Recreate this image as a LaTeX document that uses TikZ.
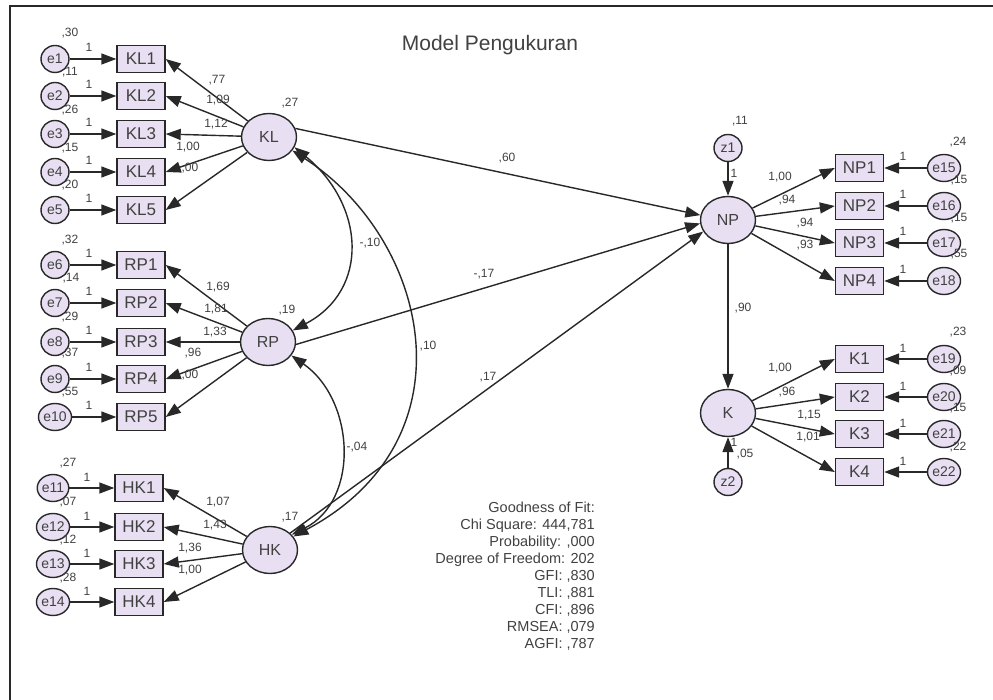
\documentclass[tikz,border=0pt]{standalone}
\usepackage{fontspec}
\setmainfont{Liberation Sans}
\usetikzlibrary{shapes.geometric,arrows.meta}
\definecolor{lav}{RGB}{232,224,242}
\definecolor{ink}{RGB}{40,40,40}
\definecolor{txt}{RGB}{65,65,65}
\begin{document}
\begin{tikzpicture}[x=1pt,y=-1pt,
  lat/.style={ellipse,draw=ink,line width=1.4pt,fill=lav,minimum width=55pt,minimum height=47pt,inner sep=0pt,font=\fontsize{16}{16}\selectfont,text=txt},
  err/.style={ellipse,draw=ink,line width=1.4pt,fill=lav,minimum width=28pt,minimum height=27pt,inner sep=0pt,font=\fontsize{14}{14}\selectfont,text=txt},
  obs/.style={rectangle,draw=ink,line width=1.4pt,fill=lav,minimum width=48pt,minimum height=27pt,inner sep=0pt,font=\fontsize{17}{17}\selectfont,text=txt},
  arr/.style={draw=ink,line width=1.4pt,-{Triangle[length=15pt,width=11pt]}},
  cov/.style={draw=ink,line width=1.4pt,{Triangle[length=15pt,width=11pt]}-{Triangle[length=15pt,width=11pt]}},
  lab/.style={font=\fontsize{12}{12}\selectfont,text=txt,inner sep=0pt},
]
\useasboundingbox (0,0) rectangle (993,700);
\fill[white] (0,0) rectangle (993,700);
\coordinate (fa) at (10,700);
\coordinate (fb) at (10,6);
\coordinate (fc) at (993,6);
\draw[ink,line width=2pt] (fa) -- (fb) -- (fc);

\node[font=\fontsize{21}{21}\selectfont,text=txt] (title) at (490,45) {Model Pengukuran};

% latent variables
\node[lat] (KL) at (269,137) {KL};
\node[lat] (RP) at (268,342) {RP};
\node[lat] (HK) at (270,550) {HK};
\node[lat] (NP) at (728,220) {NP};
\node[lat] (K) at (728,413) {K};
\node[err] (z1) at (728,148) {z1};
\node[err] (z2) at (728,482) {z2};

% KL block
\foreach \n/\y in {1/59,2/96,3/134,4/172,5/210} {
  \node[err] (e\n) at (55,\y) {e\n};
  \node[obs] (KL\n) at (141,\y) {KL\n};
  \draw[arr] (e\n) -- (KL\n);
  \node[lab] (oneKL\n) at (89,\y-12) {1};
  \draw[arr] (KL) -- (KL\n.east);
}
% RP block
\foreach \n/\e/\y in {1/6/265,2/7/303,3/8/342,4/9/379,5/10/417} {
  \node[err] (e\e) at (55,\y) {e\e};
  \node[obs] (RP\n) at (141,\y) {RP\n};
  \draw[arr] (e\e) -- (RP\n);
  \node[lab] (oneRP\n) at (89,\y-12) {1};
  \draw[arr] (RP) -- (RP\n.east);
}
% HK block
\foreach \n/\e/\y in {1/11/488,2/12/527,3/13/564,4/14/602} {
  \node[err] (e\e) at (53,\y) {e\e};
  \node[obs] (HK\n) at (139,\y) {HK\n};
  \draw[arr] (e\e) -- (HK\n);
  \node[lab] (oneHK\n) at (87,\y-11) {1};
  \draw[arr] (HK) -- (HK\n.east);
}
% NP block
\foreach \n/\e/\y in {1/15/168,2/16/206,3/17/243,4/18/281} {
  \node[obs] (NP\n) at (859.5,\y) {NP\n};
  \node[err] (e\e) at (944,\y) {e\e};
  \draw[arr] (e\e) -- (NP\n);
  \node[lab] (oneNP\n) at (903,\y-12) {1};
  \draw[arr] (NP) -- (NP\n.west);
}
% K block
\foreach \n/\e/\y in {1/19/359,2/20/397,3/21/434,4/22/472} {
  \node[obs] (K\n) at (859.5,\y) {K\n};
  \node[err] (e\e) at (944,\y) {e\e};
  \draw[arr] (e\e) -- (K\n);
  \node[lab] (oneK\n) at (903,\y-11) {1};
  \draw[arr] (K) -- (K\n.west);
}

% structural paths
\draw[arr] (KL.18) -- (NP.170);
\draw[arr] (RP.-5) -- (NP.187);
\draw[arr] (HK.40) -- (NP.205);
\draw[arr] (NP) -- (K);
\draw[arr] (z1) -- (NP);
\draw[arr] (z2) -- (K);

% covariances
\draw[cov] (KL.-22) .. controls (365,205) and (370,290) .. (RP.25);
\draw[cov] (KL.-30) .. controls (430,240) and (475,440) .. (HK.30);
\draw[cov] (RP.-30) .. controls (355,400) and (360,500) .. (HK.35);

% variance labels
\node[lab] (v1) at (70,33) {,30};
\node[lab] (v2) at (70,72) {,11};
\node[lab] (v3) at (70,110) {,26};
\node[lab] (v4) at (70,148) {,15};
\node[lab] (v5) at (70,185) {,20};
\node[lab] (v6) at (70,240) {,32};
\node[lab] (v7) at (71,278) {,14};
\node[lab] (v8) at (70,317) {,29};
\node[lab] (v9) at (70,353) {,37};
\node[lab] (v10) at (70,392) {,55};
\node[lab] (v11) at (68,463) {,27};
\node[lab] (v12) at (68,502) {,07};
\node[lab] (v13) at (68,540) {,12};
\node[lab] (v14) at (68,578) {,28};
\node[lab] (v15) at (958,142) {,24};
\node[lab] (v16) at (959,180) {,15};
\node[lab] (v17) at (959,218) {,15};
\node[lab] (v18) at (959,254) {,55};
\node[lab] (v19) at (958,332) {,23};
\node[lab] (v20) at (958,371) {,09};
\node[lab] (v21) at (958,408) {,15};
\node[lab] (v22) at (958,447) {,22};
\node[lab] (vKL) at (290,103) {,27};
\node[lab] (vRP) at (287,310) {,19};
\node[lab] (vHK) at (290,517) {,17};
\node[lab] (vz1) at (740,121) {,11};
\node[lab] (vz2) at (745,454) {,05};
\node[lab] (onez1) at (734,173) {1};
\node[lab] (onez2) at (734,442) {1};

% loadings
\node[lab] (lKL1) at (217,80) {,77};
\node[lab] (lKL2) at (218,100) {1,09};
\node[lab] (lKL3) at (216,124) {1,12};
\node[lab] (lKL4) at (188,147) {1,00};
\node[lab] (lKL5) at (190,168) {,00};
\node[lab] (lRP1) at (218,287) {1,69};
\node[lab] (lRP2) at (216,309) {1,81};
\node[lab] (lRP3) at (215,332) {1,33};
\node[lab] (lRP4) at (193,353) {,96};
\node[lab] (lRP5) at (190,375) {,00};
\node[lab] (lHK1) at (218,502) {1,07};
\node[lab] (lHK2) at (215,525) {1,43};
\node[lab] (lHK3) at (190,548) {1,36};
\node[lab] (lHK4) at (190,570) {1,00};
\node[lab] (lNP1) at (780,177) {1,00};
\node[lab] (lNP2) at (787,200) {,94};
\node[lab] (lNP3) at (805,223) {,94};
\node[lab] (lNP4) at (805,245) {,93};
\node[lab] (lK1) at (780,368) {1,00};
\node[lab] (lK2) at (787,392) {,96};
\node[lab] (lK3) at (809,415) {1,15};
\node[lab] (lK4) at (808,437) {1,01};

% structural labels
\node[lab] (sKL) at (507,158) {,60};
\node[lab] (sRP) at (484,274) {-,17};
\node[lab] (sHK) at (488,377) {,17};
\node[lab] (sNP) at (743,308) {,90};
\node[lab] (cKR) at (370,243) {-,10};
\node[lab] (cKH) at (428,346) {,10};
\node[lab] (cRH) at (357,447) {-,04};

% fit
\node[anchor=east,align=right,inner sep=0pt,font=\fontsize{14.5}{17}\selectfont,text=txt] (fit) at (595,576)
{Goodness of Fit:\\Chi Square: 444,781\\Probability: ,000\\Degree of Freedom: 202\\GFI: ,830\\TLI: ,881\\CFI: ,896\\RMSEA: ,079\\AGFI: ,787};
\end{tikzpicture}
\end{document}
